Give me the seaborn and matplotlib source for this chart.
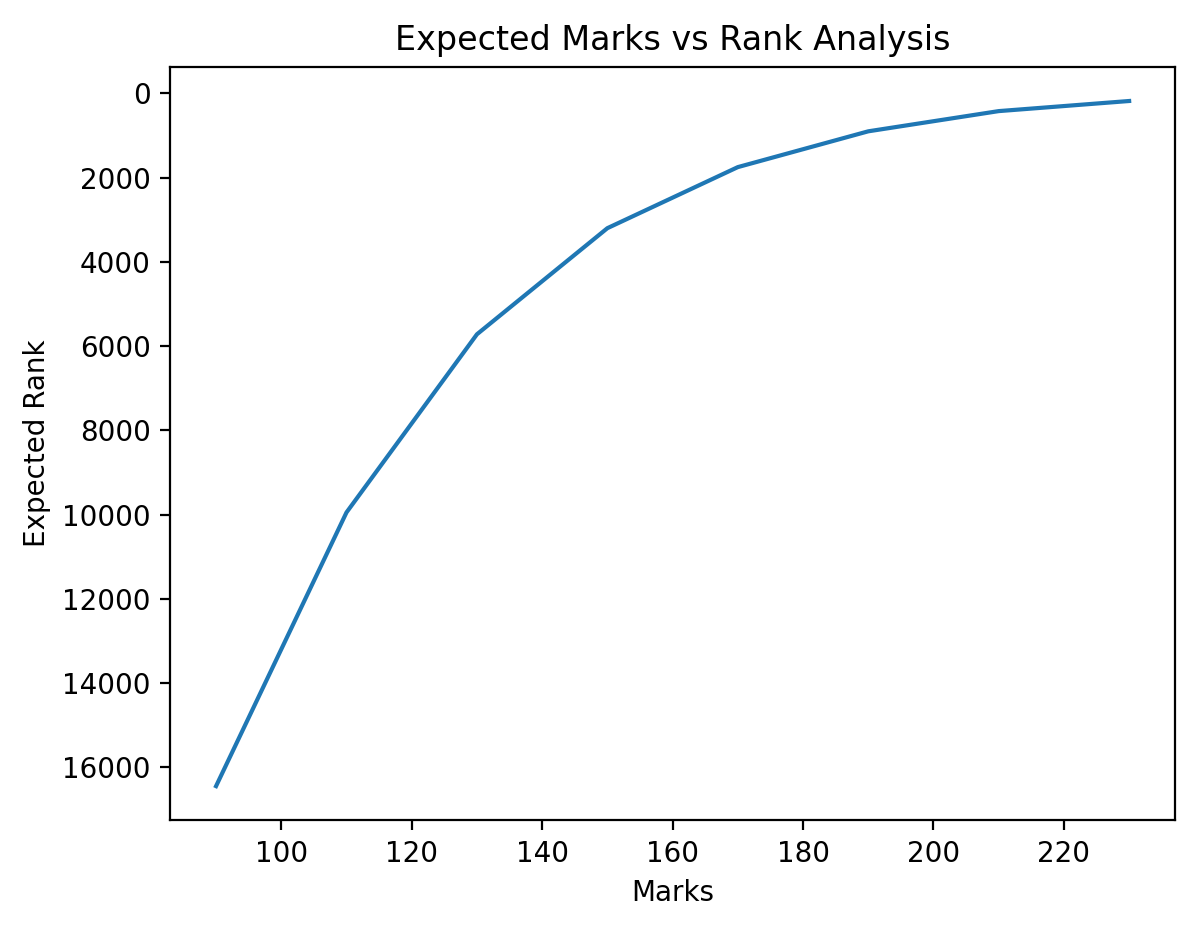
import matplotlib
matplotlib.use("Agg")
import matplotlib.pyplot as plt
import seaborn as sns
import pandas as pd

marks = [90, 110, 130, 150, 170, 190, 210, 230]
ranks = [16450, 9950, 5720, 3200, 1750, 900, 420, 180]

df = pd.DataFrame({"Marks": marks, "Expected Rank": ranks})

fig, ax = plt.subplots(figsize=(6, 4.635), dpi=200)
sns.lineplot(data=df, x="Marks", y="Expected Rank", ax=ax)
ax.invert_yaxis()
ax.set_title("Expected Marks vs Rank Analysis")
fig.subplots_adjust(left=0.142, right=0.979, top=0.928, bottom=0.115)
plt.savefig("out.png", dpi=200)
